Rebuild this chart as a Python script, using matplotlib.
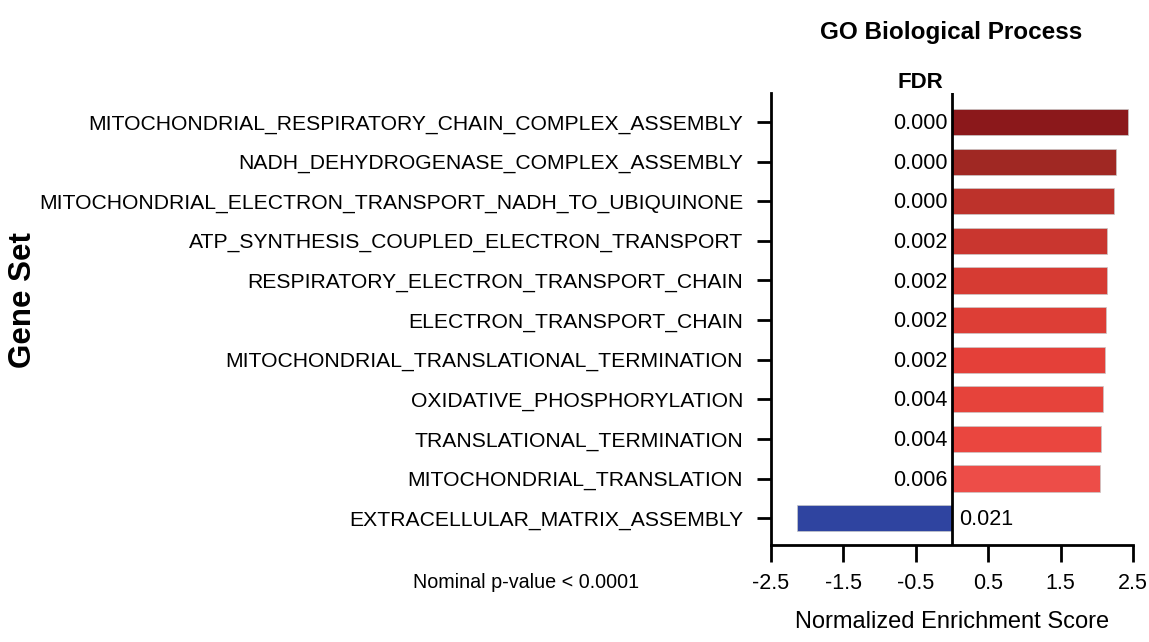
import numpy as np
import matplotlib.pyplot as plt

# GSEA results, GO biological process
gene_sets = ["MITOCHONDRIAL_RESPIRATORY_CHAIN_COMPLEX_ASSEMBLY",
             "NADH_DEHYDROGENASE_COMPLEX_ASSEMBLY",
             "MITOCHONDRIAL_ELECTRON_TRANSPORT_NADH_TO_UBIQUINONE",
             "ATP_SYNTHESIS_COUPLED_ELECTRON_TRANSPORT",
             "RESPIRATORY_ELECTRON_TRANSPORT_CHAIN",
             "ELECTRON_TRANSPORT_CHAIN",
             "MITOCHONDRIAL_TRANSLATIONAL_TERMINATION",
             "OXIDATIVE_PHOSPHORYLATION",
             "TRANSLATIONAL_TERMINATION",
             "MITOCHONDRIAL_TRANSLATION",
             "EXTRACELLULAR_MATRIX_ASSEMBLY"]
nes = [2.43, 2.27, 2.24, 2.14, 2.14, 2.13, 2.11, 2.09, 2.06, 2.05, -2.14]
fdr = ["0.000", "0.000", "0.000", "0.002", "0.002", "0.002", "0.002",
       "0.004", "0.004", "0.006", "0.021"]
bar_colors = ["#8b181b", "#a02823", "#bd322b", "#c9362f", "#d63b33", "#dd3e36",
              "#e44039", "#e6433b", "#ea463f", "#ed4d48", "#2f44a0"]
xticks = [-2.5, -1.5, -0.5, 0.5, 1.5, 2.5]

plt.rcParams['font.family'] = ['Liberation Sans', 'DejaVu Sans']

fig = plt.figure(figsize=(11.49, 6.42), dpi=100)
ax = fig.add_axes([0.671, 0.151, 0.315, 0.704])

y = np.arange(len(gene_sets))
ax.barh(y, nes, height=0.66, color=bar_colors, edgecolor="#c8c8c8", linewidth=0.5, zorder=2)
ax.axvline(0, color="black", linewidth=2, zorder=3)

# FDR values next to the zero line
for i in range(len(gene_sets)):
    if nes[i] > 0:
        ax.text(-0.06, y[i] + 0.04, fdr[i], ha="right", va="center", fontsize=15.5)
    else:
        ax.text(0.1, y[i] + 0.04, fdr[i], ha="left", va="center", fontsize=15.5)

ax.set_xlim(-2.5, 2.5)
ax.set_ylim(len(gene_sets) - 0.32, -0.73)
ax.set_xticks(xticks)
ax.set_xticklabels([str(t) for t in xticks], fontsize=15.5)
ax.set_yticks(y)
ax.set_yticklabels(gene_sets, fontsize=15.2)
ax.tick_params(axis="y", length=10, width=2, pad=10)
ax.tick_params(axis="x", length=12, width=2, pad=8)

for side in ["top", "right"]:
    ax.spines[side].set_visible(False)
for side in ["left", "bottom"]:
    ax.spines[side].set_linewidth(2)

ax.set_xlabel("Normalized Enrichment Score", fontsize=17, labelpad=12)

fig.text(0.828, 0.949, "GO Biological Process", ha="center", va="center",
         fontsize=17.5, fontweight="bold")
fig.text(0.801, 0.871, "FDR", ha="center", va="center", fontsize=16, fontweight="bold")
fig.text(0.02, 0.533, "Gene Set", ha="center", va="center", rotation=90,
         fontsize=22.5, fontweight="bold")
fig.text(0.458, 0.093, "Nominal p-value < 0.0001", ha="center", va="center", fontsize=14.2)

fig.savefig("out.png", dpi=100)
